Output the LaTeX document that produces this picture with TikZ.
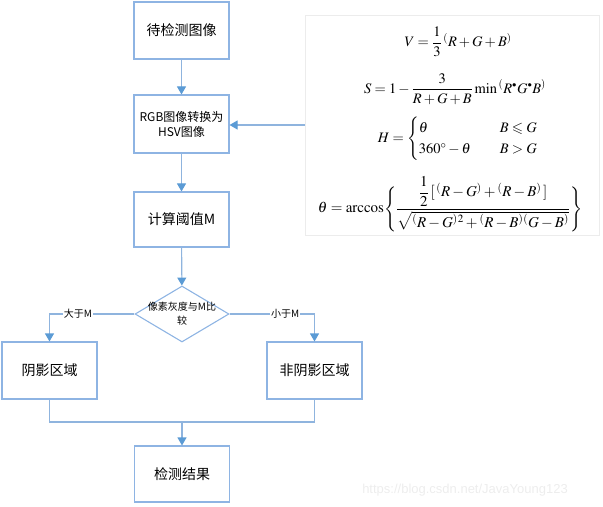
\documentclass[tikz,border=0pt]{standalone}
\usepackage{amsmath,amssymb}
\usepackage{mathptmx}
\usepackage{fontspec}
\setmainfont{Liberation Serif}
\newfontfamily\cjk{Noto Sans CJK SC}
\newfontfamily\wmfont{Liberation Sans}
\usetikzlibrary{arrows.meta,shapes.geometric}
\definecolor{boxc}{HTML}{8EB4E3}
\definecolor{linec}{HTML}{8FB4DE}
\definecolor{arrc}{HTML}{5B9BD5}
\newcommand{\lpp}{{}^{(}}
\newcommand{\rpp}{^{)}}
\newcommand{\mdot}{{}^{\scriptscriptstyle\bullet}}
\begin{document}
\begin{tikzpicture}[x=1bp,y=-1bp,
  box/.style={draw=boxc, line width=1.1pt, minimum width=95bp, minimum height=57bp, inner sep=0pt, align=center, font=\cjk\fontsize{14bp}{16bp}\selectfont},
  conn/.style={draw=linec, line width=1.1pt},
  arr/.style={conn, -{Triangle[width=9bp,length=8bp,color=arrc]}},
  lbl/.style={fill=white, inner sep=1bp, font=\cjk\fontsize{10bp}{12bp}\selectfont},
  fml/.style={inner sep=0pt, font=\fontsize{14.5bp}{17bp}\selectfont}]
\useasboundingbox (0,0) rectangle (603,507);
% flow boxes
\node[box] (b1) at (181.5,30.5) {待检测图像};
\node[box, minimum height=58bp, font=\cjk\fontsize{12bp}{15bp}\selectfont] (b2) at (181.5,124) {RGB图像转换为\\HSV图像};
\node[box, minimum height=55bp] (b3) at (181.5,219.5) {计算阈值M};
\node[draw=boxc, line width=1.1pt, diamond, minimum width=94bp, minimum height=56bp, inner sep=0pt] (dia) at (182,314) {};
\node[inner sep=0pt, align=center, font=\cjk\fontsize{10bp}{14bp}\selectfont] (diat) at (182,314) {像素灰度与M比\\较};
\node[box] (lb) at (49.5,370.5) {阴影区域};
\node[box] (rb) at (314.5,370.5) {非阴影区域};
\node[box, minimum height=56bp] (b5) at (182,474) {检测结果};
% connectors
\draw[arr] (b1) -- (b2);
\draw[arr] (b2) -- (b3);
\draw[arr] (b3) -- (dia);
\draw[arr] (dia.west) -| node[pos=0.333, lbl] {大于M} (lb.north);
\draw[arr] (dia.east) -| node[pos=0.327, lbl] {小于M} (rb.north);
\coordinate (m) at (182,422);
\draw[conn] (lb.south) |- (m) -| (rb.south);
\draw[arr] (m) -- (b5);
% formula panel
\node[draw=gray!15, line width=0.8pt, minimum width=294bp, minimum height=220bp, inner sep=0pt] (panel) at (452,125) {};
\draw[arr] (panel.west) -- (b2.east |- panel.west);
\node[fml] (fv) at (458,42) {$V=\dfrac{1}{3}\,\lpp R+G+B\rpp$};
\node[fml] (fs) at (455,89) {$S=1-\dfrac{3}{R+G+B}\,\mathrm{min}\,\lpp R\mdot G\mdot B\rpp$};
\node[fml] (fh) at (458,139) {$H=\begin{cases}\theta & B\leqslant G\\ 360^\circ-\theta\quad & B>G\end{cases}$};
\node[fml, font=\fontsize{15bp}{18bp}\selectfont] (ft) at (450,204) {$\theta=\mathrm{arccos}\Biggl\{\dfrac{\dfrac{1}{2}\,[\,\lpp R-G\rpp+\lpp R-B\rpp\,]}{\rule{0pt}{15bp}\sqrt{\lpp R-G\rpp{}^{2}+\lpp R-B\rpp\lpp G-B\rpp}}\Biggr\}$};
% watermark
\node[text=gray!14, font=\wmfont\fontsize{13bp}{15bp}\selectfont, inner sep=0pt] (wm) at (465,490) {https://blog.csdn.net/JavaYoung123};
\end{tikzpicture}
\end{document}
